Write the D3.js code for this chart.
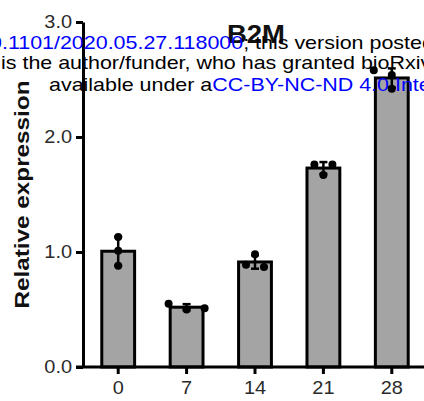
<!DOCTYPE html>
<html>
<head>
<meta charset="utf-8">
<script src="https://cdn.jsdelivr.net/npm/d3@7"></script>
<style>
  body { margin: 0; background: #fff; }
  text { font-family: "Liberation Sans", Arial, sans-serif; }
</style>
</head>
<body>
<div id="chart"></div>
<script>
// days after treatment, one bar per day
var days = ["0", "7", "14", "21", "28"];
// three replicates per day (relative expression)
var day0 = [1.13, 1.01, 0.88];
var day7 = [0.50, 0.55, 0.51];
var day14 = [0.98, 0.89, 0.87];
var day21 = [1.67, 1.76, 1.76];
var day28 = [2.42, 2.54, 2.58];
var replicates = [day0, day7, day14, day21, day28];
var yTicks = [0, 1, 2, 3];

var W = 424, H = 401;
var margin = { left: 83, right: -2, top: 22, bottom: 34 };

var svg = d3.select("#chart").append("svg")
    .attr("width", W)
    .attr("height", H);

var x = d3.scaleBand()
    .domain(days)
    .range([margin.left + 1, W - margin.right])
    .paddingInner(0.52)
    .paddingOuter(0.26);

var y = d3.scaleLinear()
    .domain([0, 3])
    .range([H - margin.bottom, margin.top]);

var groups = days.map(function(d, i){
    var v = replicates[i];
    return { day: d, vals: v, mean: d3.mean(v), sd: d3.deviation(v) };
});

// bars
svg.selectAll("rect.bar")
    .data(groups)
    .enter().append("rect")
    .attr("class", "bar")
    .attr("x", function(d){ return x(d.day); })
    .attr("width", x.bandwidth())
    .attr("y", function(d){ return y(d.mean); })
    .attr("height", function(d){ return y(0) - y(d.mean); })
    .attr("fill", "#a4a4a4")
    .attr("stroke", "#000")
    .attr("stroke-width", 3);

// error bars (mean +/- SD)
var eb = svg.selectAll("g.err")
    .data(groups)
    .enter().append("g")
    .attr("class", "err")
    .attr("stroke", "#000")
    .attr("stroke-width", 2.5);
eb.append("line")
    .attr("x1", function(d){ return x(d.day) + x.bandwidth() / 2; })
    .attr("x2", function(d){ return x(d.day) + x.bandwidth() / 2; })
    .attr("y1", function(d){ return y(d.mean - d.sd); })
    .attr("y2", function(d){ return y(d.mean + d.sd); });
[-1, 1].forEach(function(s){
    eb.append("line")
        .attr("x1", function(d){ return x(d.day) + x.bandwidth() / 2 - 4; })
        .attr("x2", function(d){ return x(d.day) + x.bandwidth() / 2 + 4; })
        .attr("y1", function(d){ return y(d.mean + s * d.sd); })
        .attr("y2", function(d){ return y(d.mean + s * d.sd); });
});

// replicate dots, nudged sideways when they would overlap
var r = 4, step = 9, minGap = 12;
var dots = [];
groups.forEach(function(g){
    var cx = x(g.day) + x.bandwidth() / 2;
    var placed = [];
    g.vals.forEach(function(v){
        var cy = y(v);
        var tries = [0, -step, step, -2 * step, 2 * step];
        for (var k = 0; k < tries.length; k++){
            var ok = placed.every(function(p){
                return Math.hypot(p.cx - (cx + tries[k]), p.cy - cy) >= minGap;
            });
            if (ok){ placed.push({ cx: cx + tries[k], cy: cy }); break; }
        }
    });
    dots = dots.concat(placed);
});
svg.selectAll("circle.dot")
    .data(dots)
    .enter().append("circle")
    .attr("class", "dot")
    .attr("cx", function(d){ return d.cx; })
    .attr("cy", function(d){ return d.cy; })
    .attr("r", r)
    .attr("fill", "#000");

// Y axis
var yAxis = svg.append("g")
    .attr("transform", "translate(" + margin.left + ",0)")
    .call(d3.axisLeft(y).tickValues(yTicks).tickFormat(d3.format(".1f"))
        .tickSize(7).tickSizeOuter(0).tickPadding(2.6));
yAxis.selectAll("path, line").attr("stroke", "#000").attr("stroke-width", 3);
yAxis.selectAll("text")
    .attr("font-size", 17.5)
    .attr("fill", "#2a2a2a")
    .attr("font-family", "Liberation Sans, Arial, sans-serif")
    .attr("transform", "scale(1.14,1)");

// X axis
var xAxis = svg.append("g")
    .attr("transform", "translate(0," + y(0) + ")")
    .call(d3.axisBottom(x).tickSize(7).tickSizeOuter(0).tickPadding(8));
xAxis.select(".domain").remove();
xAxis.selectAll("line").attr("stroke", "#000").attr("stroke-width", 3);
xAxis.selectAll("text")
    .attr("font-size", 17.5)
    .attr("fill", "#2a2a2a")
    .attr("font-family", "Liberation Sans, Arial, sans-serif")
    .attr("transform", "scale(1.14,1)");
xAxis.append("line")
    .attr("x1", margin.left - 7)
    .attr("x2", W)
    .attr("stroke", "#000")
    .attr("stroke-width", 3);

// Y label
svg.append("text")
    .attr("transform", "translate(29," + (y(0) + y(3)) / 2 + ") rotate(-90)")
    .attr("text-anchor", "middle")
    .attr("font-size", 19.5)
    .attr("font-weight", "bold")
    .attr("fill", "#111")
    .attr("textLength", 228)
    .attr("lengthAdjust", "spacingAndGlyphs")
    .text("Relative expression");

// Title
svg.append("text")
    .attr("transform", "translate(256,43) scale(1.1,1)")
    .attr("text-anchor", "middle")
    .attr("font-size", 25)
    .attr("font-weight", "bold")
    .attr("fill", "#111")
    .text("B2M");

// preprint watermark lines laid over the figure
var sx = 1.16;
var wm = svg.append("g")
    .attr("transform", "scale(" + sx + ",1)")
    .attr("font-size", 18.5)
    .attr("fill", "#000");
var l1 = wm.append("text").attr("x", -10 / sx).attr("y", 49);
l1.append("tspan").attr("fill", "#0000ff").text("0.1101/2020.05.27.118000");
l1.append("tspan").text("; this version posted June 1, 2020. The copyright holder");
wm.append("text").attr("x", 1 / sx).attr("y", 69)
    .text("is the author/funder, who has granted bioRxiv a license to display the preprint");
var l3 = wm.append("text").attr("x", 49 / sx).attr("y", 91);
l3.append("tspan").text("available under a");
l3.append("tspan").attr("fill", "#0000ff").text("CC-BY-NC-ND 4.0 International license");
</script>
</body>
</html>
